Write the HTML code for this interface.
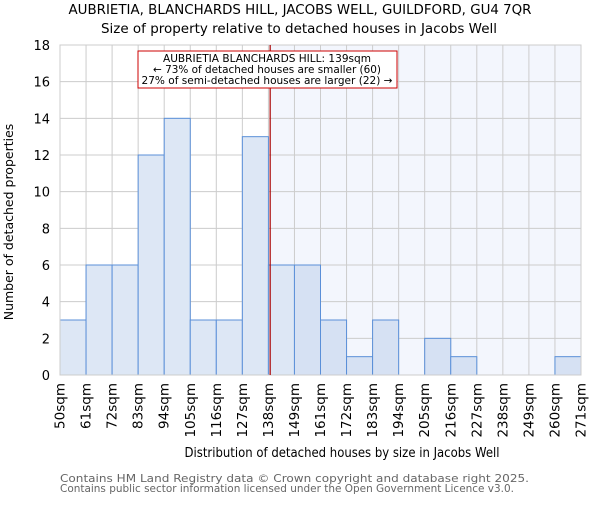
<!DOCTYPE html>
<html><head><meta charset="utf-8"><style>
body{margin:0;background:#fff}
svg{font-family:"DejaVu Sans","Liberation Sans",sans-serif}
</style></head><body>
<svg id="c" width="600" height="500" viewBox="0 0 600 500">
<text x="300" y="14" text-anchor="middle" font-size="13" textLength="463" lengthAdjust="spacingAndGlyphs" fill="#000">AUBRIETIA, BLANCHARDS HILL, JACOBS WELL, GUILDFORD, GU4 7QR</text>
<text x="299" y="33" text-anchor="middle" font-size="13" textLength="396" lengthAdjust="spacingAndGlyphs" fill="#000">Size of property relative to detached houses in Jacobs Well</text>
<g id="plot"></g>
<text x="342" y="457" text-anchor="middle" font-size="13" textLength="315" lengthAdjust="spacingAndGlyphs">Distribution of detached houses by size in Jacobs Well</text>
<text transform="translate(13,222) rotate(-90)" text-anchor="middle" font-size="12.5">Number of detached properties</text>
<text x="60" y="482" font-size="11" textLength="469" lengthAdjust="spacingAndGlyphs" fill="#666">Contains HM Land Registry data © Crown copyright and database right 2025.</text>
<text x="60" y="492" font-size="11" textLength="454" lengthAdjust="spacingAndGlyphs" fill="#666">Contains public sector information licensed under the Open Government Licence v3.0.</text>
</svg>
<script>
const categories=["50sqm","61sqm","72sqm","83sqm","94sqm","105sqm","116sqm","127sqm","138sqm","149sqm","161sqm","172sqm","183sqm","194sqm","205sqm","216sqm","227sqm","238sqm","249sqm","260sqm","271sqm"];
const counts=[3,6,6,12,14,3,3,13,6,6,3,1,3,0,2,1,0,0,0,1];
const yTicks=[0,2,4,6,8,10,12,14,16,18];
const markerValue=139;
const binStart=50, binWidth=11;
const L=60,R=581,T=45,B=375,yMax=18;
const NS="http://www.w3.org/2000/svg";
const g=document.getElementById('plot');
function x(i){return L+(R-L)*i/counts.length;}
function xv(v){return x((v-binStart)/binWidth);}
function y(v){return B-(B-T)*v/yMax;}
function mk(t,a,p){const e=document.createElementNS(NS,t);for(const k in a)e.setAttribute(k,a[k]);(p||g).appendChild(e);return e;}
const mx=xv(markerValue)-0.6;
const bg=mk('rect',{x:mx,y:T,width:R-mx,height:B-T,fill:'#f3f6fd'});


for(let i=0;i<=counts.length;i++){const l=mk('line',{x1:x(i),x2:x(i),y1:T,y2:B,stroke:'#cccccc','stroke-width':1});

}
yTicks.forEach(t=>{const l=mk('line',{x1:L,x2:R,y1:y(t),y2:y(t),stroke:'#cccccc','stroke-width':1});


const tx=mk('text',{x:L-10,y:y(t)+5,'text-anchor':'end','font-size':13});tx.textContent=t;

});
counts.forEach((c,i)=>{if(c<=0)return;const after=x(i)>=mx-1;
const r=mk('rect',{x:x(i),y:y(c),width:x(i+1)-x(i),height:B-y(c),fill:after?'#d6e1f3':'#dde7f5',stroke:'#5a8fd8','stroke-width':1});

});
categories.forEach((c,i)=>{const tx=mk('text',{transform:`translate(${x(i)+4.5},383) rotate(-90)`,'text-anchor':'end','font-size':13.5});tx.textContent=c;

});
const ax=mk('rect',{x:L,y:T,width:R-L,height:B-T,fill:'none',stroke:'#cccccc'});


const ml=mk('line',{x1:mx,x2:mx,y1:T,y2:B,stroke:'#aa0000','stroke-width':1.2});


const box=mk('rect',{x:138,y:51,width:259,height:37,fill:'#fff',stroke:'#cc0000','stroke-width':1});


[["AUBRIETIA BLANCHARDS HILL: 139sqm",208],["← 73% of detached houses are smaller (60)",228],["27% of semi-detached houses are larger (22) →",251]].forEach((s,i)=>{
const tx=mk('text',{x:267,y:62+i*11,'text-anchor':'middle','font-size':10.5,textLength:s[1],lengthAdjust:'spacingAndGlyphs'});tx.textContent=s[0];

});
</script>
</body></html>
